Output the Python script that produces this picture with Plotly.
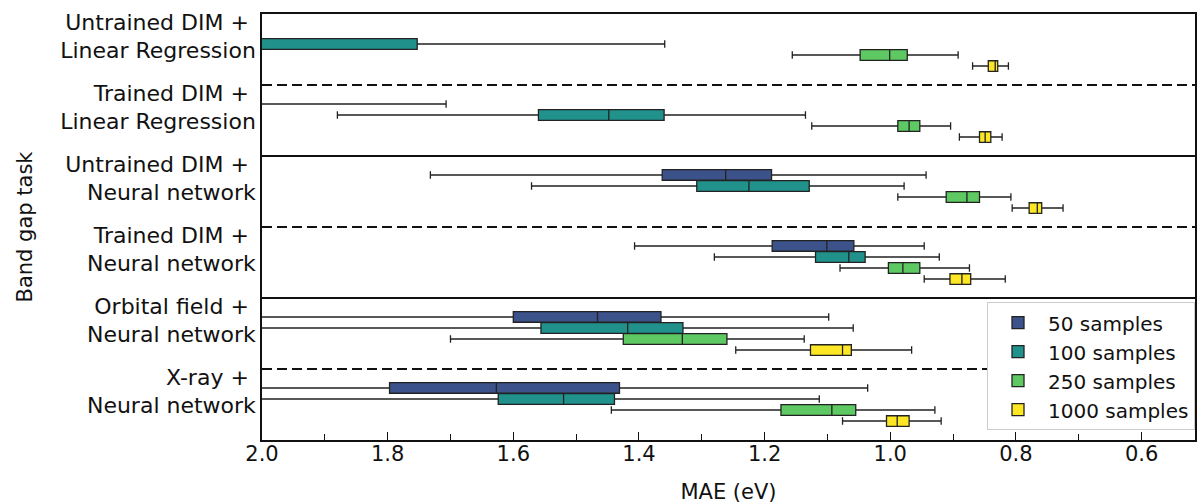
import plotly.graph_objects as go

tasks = [
    "Untrained DIM + Linear Regression",
    "Trained DIM + Linear Regression",
    "Untrained DIM + Neural network",
    "Trained DIM + Neural network",
    "Orbital field + Neural network",
    "X-ray + Neural network",
]
task_labels = [
    "Untrained DIM +\u00a0<br>Linear Regression",
    "Trained DIM +\u00a0<br>Linear Regression",
    "Untrained DIM +\u00a0<br>Neural network",
    "Trained DIM +\u00a0<br>Neural network",
    "Orbital field +\u00a0<br>Neural network",
    "X-ray +\u00a0<br>Neural network",
]
series_names = ["50 samples", "100 samples", "250 samples", "1000 samples"]
colors = ["#3b528b", "#21918c", "#5ec962", "#fde725"]

x_tick_vals = [2.0, 1.8, 1.6, 1.4, 1.2, 1.0, 0.8, 0.6]
x_tick_text = ["2.0", "1.8", "1.6", "1.4", "1.2", "1.0", "0.8", "0.6"]

lower_50 = [2.10, 1.707, 0.943, 0.946, 1.098, 1.036]
q1_50 = [2.30, 2.05, 1.189, 1.058, 1.365, 1.431]
med_50 = [2.50, 2.20, 1.262, 1.101, 1.466, 1.627]
q3_50 = [2.70, 2.40, 1.363, 1.188, 1.600, 1.797]
upper_50 = [3.10, 2.80, 1.732, 1.407, 2.20, 2.30]

lower_100 = [1.359, 1.135, 0.978, 0.922, 1.059, 1.113]
q1_100 = [1.753, 1.360, 1.129, 1.040, 1.330, 1.439]
med_100 = [2.10, 1.448, 1.225, 1.066, 1.418, 1.520]
q3_100 = [2.40, 1.560, 1.308, 1.119, 1.556, 1.624]
upper_100 = [2.90, 1.880, 1.571, 1.280, 2.20, 2.10]

lower_250 = [0.892, 0.904, 0.808, 0.874, 1.137, 0.929]
q1_250 = [0.973, 0.953, 0.858, 0.953, 1.260, 1.055]
med_250 = [1.001, 0.970, 0.878, 0.980, 1.331, 1.093]
q3_250 = [1.048, 0.988, 0.911, 1.003, 1.425, 1.174]
upper_250 = [1.156, 1.125, 0.988, 1.080, 1.700, 1.444]

lower_1000 = [0.812, 0.822, 0.725, 0.817, 0.966, 0.919]
q1_1000 = [0.829, 0.840, 0.759, 0.872, 1.062, 0.970]
med_1000 = [0.833, 0.849, 0.766, 0.886, 1.076, 0.989]
q3_1000 = [0.844, 0.858, 0.779, 0.905, 1.127, 1.006]
upper_1000 = [0.869, 0.890, 0.806, 0.946, 1.246, 1.076]

stats = [
    (lower_50, q1_50, med_50, q3_50, upper_50),
    (lower_100, q1_100, med_100, q3_100, upper_100),
    (lower_250, q1_250, med_250, q3_250, upper_250),
    (lower_1000, q1_1000, med_1000, q3_1000, upper_1000),
]

separator_styles = ["dash", "solid", "dash", "solid", "dash"]

font = "DejaVu Sans"
fig = go.Figure()
for name, color, (lo, q1, md, q3, up) in zip(series_names, colors, stats):
    fig.add_trace(go.Box(
        name=name, y=tasks, orientation="h",
        lowerfence=lo, q1=q1, median=md, q3=q3, upperfence=up,
        fillcolor=color, line=dict(color="#222222", width=1.3),
        whiskerwidth=0.7, boxpoints=False, hoverinfo="skip",
    ))

for i, style in enumerate(separator_styles):
    fig.add_shape(type="line", xref="paper", yref="y", x0=0, x1=1,
                  y0=i + 0.5, y1=i + 0.5,
                  line=dict(color="#111111", width=2,
                            dash="10px,5px" if style == "dash" else "solid"))

fig.update_layout(
    width=1198, height=504,
    margin=dict(l=262, r=1, t=14, b=64),
    paper_bgcolor="white", plot_bgcolor="white",
    boxmode="group", boxgap=0.38, boxgroupgap=0.04,
    font=dict(family=font, color="#111111"),
    showlegend=True,
    legend=dict(x=1.0, y=0.023, xanchor="right", yanchor="bottom",
                bgcolor="white", bordercolor="#cccccc", borderwidth=1,
                itemwidth=50,
                font=dict(size=20, family=font), traceorder="normal"),
)
fig.update_xaxes(
    range=[2.0, 0.515], tickvals=x_tick_vals, ticktext=x_tick_text,
    ticks="inside", ticklen=8, tickcolor="#111111",
    minor=dict(dtick=0.1, ticks="inside", ticklen=6, tickcolor="#111111"),
    showline=True, mirror=True, linecolor="#111111", linewidth=1.5,
    showgrid=False, zeroline=False, ticklabelstandoff=-6,
    tickfont=dict(size=21), title=dict(text="MAE (eV)", font=dict(size=21), standoff=20),
)
fig.update_yaxes(
    type="category", categoryorder="array", categoryarray=tasks,
    tickvals=tasks, ticktext=task_labels,
    range=[5.5, -0.5], ticks="", ticklabelshift=13, ticklabelstandoff=0,
    showline=True, mirror=True, linecolor="#111111", linewidth=1.5,
    showgrid=False, zeroline=False,
    tickfont=dict(size=22), title=dict(text="Band gap task", font=dict(size=21), standoff=22),
)

fig.write_html("out.html", config={"displayModeBar": False},
               post_script="document.body.style.margin='0px';")
